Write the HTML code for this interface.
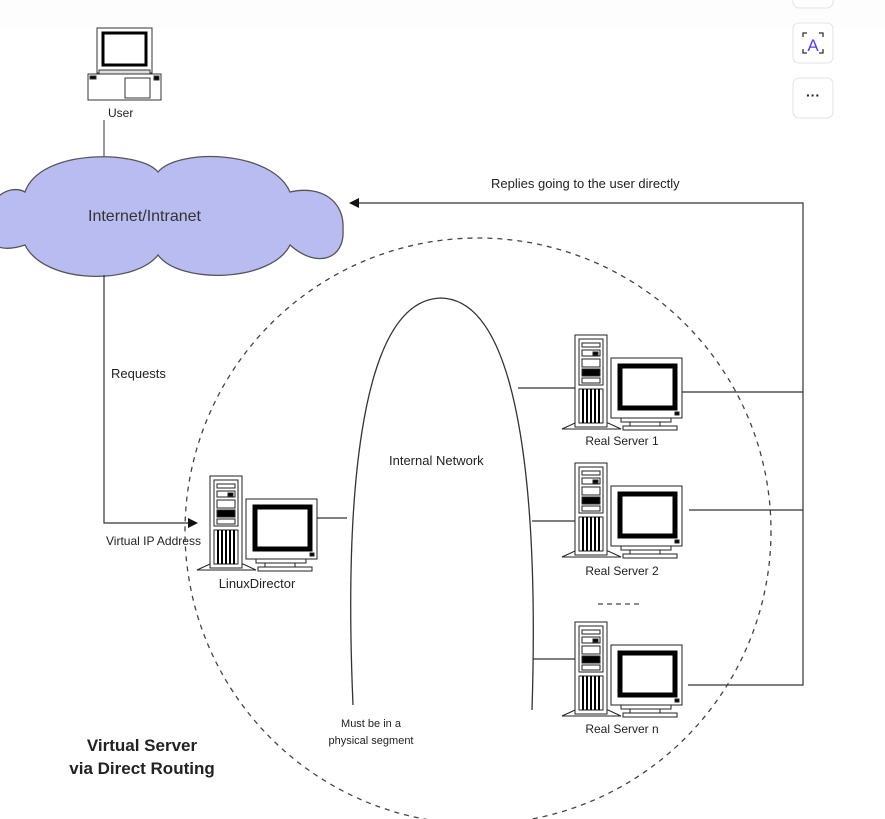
<!DOCTYPE html>
<html><head><meta charset="utf-8"><style>
html,body{margin:0;padding:0;background:#fff;width:885px;height:819px;overflow:hidden}
svg{display:block}
text{font-family:"Liberation Sans",Arial,sans-serif;fill:#222}
</style></head><body>
<svg width="885" height="819" viewBox="0 0 885 819" xmlns="http://www.w3.org/2000/svg">
<rect x="0" y="0" width="885" height="28" fill="#fdfdfd"/>
<rect x="793" y="-12" width="40" height="20" rx="6" fill="#fff" stroke="#e3e3e3"/>
<rect x="793" y="23" width="40" height="40" rx="6" fill="#fff" stroke="#e3e3e3"/>
<text x="813" y="51" font-size="17" text-anchor="middle" style="fill:#5a3cff">A</text>
<path d="M803,37 v-4 h4 M823,37 v-4 h-4 M803,49 v4 h4 M823,49 v4 h-4" fill="none" stroke="#333" stroke-width="1.3"/>
<rect x="793" y="78" width="40" height="40" rx="6" fill="#fff" stroke="#e3e3e3"/>
<text x="813" y="100" font-size="14" text-anchor="middle" font-weight="bold">···</text>

<g stroke="#333" fill="#fff">
<rect x="97" y="28" width="55" height="45"/>
<rect x="103" y="33" width="43" height="32" stroke="#000" stroke-width="3"/>
<rect x="99" y="70" width="51" height="4" fill="#ddd"/>
<rect x="88" y="74" width="73" height="26"/>
<rect x="125" y="78" width="25" height="20"/>
<rect x="90" y="76" width="6" height="3" fill="#000"/>
<rect x="154" y="76" width="5" height="4" fill="#000"/>
</g>
<text x="108" y="117" font-size="12">User</text>
<line x1="104" y1="120" x2="104" y2="160" stroke="#333"/>

<path d="M-5,200 C5,188 18,188 25,192 C40,148 140,150 158,172 C178,148 272,150 290,192 C320,185 345,200 343,230 C345,258 318,270 290,245 C272,282 180,285 158,255 C135,285 45,285 25,245 C10,250 -5,250 -8,240 Z" fill="#b8bcf0" stroke="#555" stroke-width="1.3"/>
<text x="88" y="221" font-size="16" style="fill:#333">Internet/Intranet</text>

<polyline points="104,275 104,523 190,523" fill="none" stroke="#333" stroke-width="1.2"/>
<polygon points="198,523 188,518 188,528" fill="#111"/>
<text x="111" y="378" font-size="13">Requests</text>
<text x="106" y="545" font-size="12">Virtual IP Address</text>

<text x="491" y="188" font-size="13">Replies going to the user directly</text>
<polyline points="358,203 803,203 803,685 688,685" fill="none" stroke="#333" stroke-width="1.2"/>
<polygon points="349,203 359,198 359,208" fill="#111"/>
<line x1="681" y1="392" x2="803" y2="392" stroke="#333" stroke-width="1.2"/>
<line x1="689" y1="510" x2="803" y2="510" stroke="#333" stroke-width="1.2"/>

<ellipse cx="478" cy="531" rx="293" ry="293" fill="none" stroke="#444" stroke-width="1.3" stroke-dasharray="5,5"/>

<path d="M353,705 C345,520 355,300 441,298 C525,300 538,520 532,710" fill="#fff" stroke="#333" stroke-width="1.3"/>
<text x="389" y="465" font-size="13">Internal Network</text>
<line x1="316" y1="518" x2="347" y2="518" stroke="#333" stroke-width="1.2"/>
<line x1="518" y1="388" x2="576" y2="388" stroke="#333" stroke-width="1.2"/>
<line x1="532" y1="521" x2="576" y2="521" stroke="#333" stroke-width="1.2"/>
<line x1="533" y1="659" x2="576" y2="659" stroke="#333" stroke-width="1.2"/>
<line x1="598" y1="604" x2="642" y2="604" stroke="#444" stroke-width="1.3" stroke-dasharray="5,4"/>

<g transform="translate(575,335)" stroke="#222" fill="#fff" stroke-width="1">
<polygon points="-13,94 0,88 33,88 46,94"/>
<rect x="0" y="0" width="32" height="92"/>
<rect x="4" y="4" width="24" height="46"/>
<rect x="7" y="8" width="18" height="4"/>
<rect x="7" y="15" width="18" height="6"/><rect x="18" y="17" width="5" height="3" fill="#000"/>
<rect x="7" y="24" width="18" height="8"/>
<rect x="7" y="34" width="18" height="7" fill="#000"/>
<rect x="7" y="43" width="18" height="5"/>
<rect x="4" y="54" width="24" height="34"/>
<path d="M8,54v34 M12,54v34 M16,54v34 M20,54v34 M24,54v34" stroke="#000" stroke-width="2"/>
<rect x="36" y="23" width="71" height="60"/>
<rect x="45" y="31" width="55" height="42" stroke="#000" stroke-width="5"/>
<rect x="100" y="77" width="4" height="3" fill="#000"/>
<rect x="46" y="83" width="50" height="4"/>
<rect x="55" y="87" width="30" height="4"/>
<rect x="48" y="91" width="54" height="4"/>
</g>
<g transform="translate(575,463)" stroke="#222" fill="#fff" stroke-width="1">
<polygon points="-13,94 0,88 33,88 46,94"/>
<rect x="0" y="0" width="32" height="92"/>
<rect x="4" y="4" width="24" height="46"/>
<rect x="7" y="8" width="18" height="4"/>
<rect x="7" y="15" width="18" height="6"/><rect x="18" y="17" width="5" height="3" fill="#000"/>
<rect x="7" y="24" width="18" height="8"/>
<rect x="7" y="34" width="18" height="7" fill="#000"/>
<rect x="7" y="43" width="18" height="5"/>
<rect x="4" y="54" width="24" height="34"/>
<path d="M8,54v34 M12,54v34 M16,54v34 M20,54v34 M24,54v34" stroke="#000" stroke-width="2"/>
<rect x="36" y="23" width="71" height="60"/>
<rect x="45" y="31" width="55" height="42" stroke="#000" stroke-width="5"/>
<rect x="100" y="77" width="4" height="3" fill="#000"/>
<rect x="46" y="83" width="50" height="4"/>
<rect x="55" y="87" width="30" height="4"/>
<rect x="48" y="91" width="54" height="4"/>
</g>
<g transform="translate(575,622)" stroke="#222" fill="#fff" stroke-width="1">
<polygon points="-13,94 0,88 33,88 46,94"/>
<rect x="0" y="0" width="32" height="92"/>
<rect x="4" y="4" width="24" height="46"/>
<rect x="7" y="8" width="18" height="4"/>
<rect x="7" y="15" width="18" height="6"/><rect x="18" y="17" width="5" height="3" fill="#000"/>
<rect x="7" y="24" width="18" height="8"/>
<rect x="7" y="34" width="18" height="7" fill="#000"/>
<rect x="7" y="43" width="18" height="5"/>
<rect x="4" y="54" width="24" height="34"/>
<path d="M8,54v34 M12,54v34 M16,54v34 M20,54v34 M24,54v34" stroke="#000" stroke-width="2"/>
<rect x="36" y="23" width="71" height="60"/>
<rect x="45" y="31" width="55" height="42" stroke="#000" stroke-width="5"/>
<rect x="100" y="77" width="4" height="3" fill="#000"/>
<rect x="46" y="83" width="50" height="4"/>
<rect x="55" y="87" width="30" height="4"/>
<rect x="48" y="91" width="54" height="4"/>
</g>
<g transform="translate(210,476)" stroke="#222" fill="#fff" stroke-width="1">
<polygon points="-13,94 0,88 33,88 46,94"/>
<rect x="0" y="0" width="32" height="92"/>
<rect x="4" y="4" width="24" height="46"/>
<rect x="7" y="8" width="18" height="4"/>
<rect x="7" y="15" width="18" height="6"/><rect x="18" y="17" width="5" height="3" fill="#000"/>
<rect x="7" y="24" width="18" height="8"/>
<rect x="7" y="34" width="18" height="7" fill="#000"/>
<rect x="7" y="43" width="18" height="5"/>
<rect x="4" y="54" width="24" height="34"/>
<path d="M8,54v34 M12,54v34 M16,54v34 M20,54v34 M24,54v34" stroke="#000" stroke-width="2"/>
<rect x="36" y="23" width="71" height="60"/>
<rect x="45" y="31" width="55" height="42" stroke="#000" stroke-width="5"/>
<rect x="100" y="77" width="4" height="3" fill="#000"/>
<rect x="46" y="83" width="50" height="4"/>
<rect x="55" y="87" width="30" height="4"/>
<rect x="48" y="91" width="54" height="4"/>
</g>

<text x="622" y="445" font-size="12" text-anchor="middle">Real Server 1</text>
<text x="622" y="575" font-size="12" text-anchor="middle">Real Server 2</text>
<text x="622" y="733" font-size="12" text-anchor="middle">Real Server n</text>
<text x="257" y="588" font-size="13" text-anchor="middle">LinuxDirector</text>
<text x="371" y="727" font-size="11" text-anchor="middle">Must be in a</text>
<text x="371" y="744" font-size="11" text-anchor="middle">physical segment</text>

<text x="142" y="751" font-size="17" font-weight="bold" text-anchor="middle">Virtual Server</text>
<text x="142" y="774" font-size="17" font-weight="bold" text-anchor="middle">via Direct Routing</text>
</svg>
</body></html>
